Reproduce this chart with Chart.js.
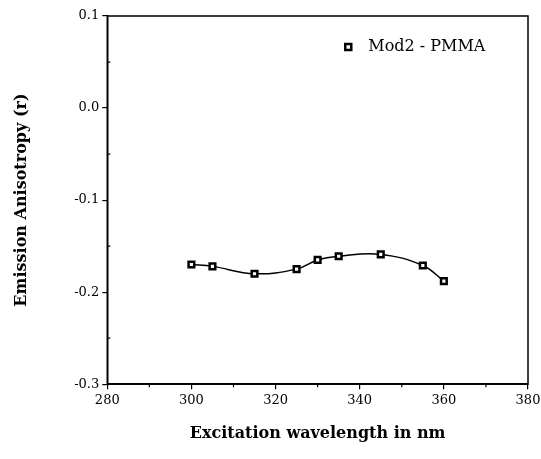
<!DOCTYPE html>
<html>
<head>
<meta charset="utf-8">
<script src="https://cdn.jsdelivr.net/npm/chart.js@4"></script>
<style>
  html, body { margin: 0; padding: 0; background: #fff; }
  #wrap { width: 541px; height: 459px; }
</style>
</head>
<body>
<div id="wrap"><canvas id="chart"></canvas></div>
<script>
// values
const wavelengths = [300, 305, 315, 325, 330, 335, 345, 355, 360];
const anisotropy = [-0.170, -0.172, -0.180, -0.175, -0.165, -0.161, -0.159, -0.171, -0.188];
const seriesLabel = 'Mod2 - PMMA';
const xTitle = 'Excitation wavelength in nm';
const yTitle = 'Emission Anisotropy (r)';

const tickFont = { family: 'DejaVu Serif', size: 13 };
const titleFont = { family: 'DejaVu Serif', size: 16, weight: 'bold' };

// box around the plot + short minor ticks between the labelled ones
const frame = {
  id: 'frame',
  afterDraw(c) {
    const ctx = c.ctx, a = c.chartArea;
    const xs = c.scales.x, ys = c.scales.y;
    ctx.save();
    ctx.strokeStyle = '#000';
    ctx.lineWidth = 1.5;
    ctx.strokeRect(a.left, a.top, a.right - a.left, a.bottom - a.top);
    ctx.lineWidth = 1.2;
    ctx.beginPath();
    for (let v = 290; v < 380; v += 20) {
      const px = xs.getPixelForValue(v);
      ctx.moveTo(px, a.bottom);
      ctx.lineTo(px, a.bottom + 3);
    }
    for (let v = -0.25; v < 0.1; v += 0.1) {
      const py = ys.getPixelForValue(v);
      ctx.moveTo(a.left, py);
      ctx.lineTo(a.left + 3, py);
    }
    ctx.stroke();

    // legend inside the plot
    const lx = a.left + 241, ly = a.top + 31;
    ctx.lineWidth = 2.5;
    ctx.fillStyle = '#fff';
    ctx.fillRect(lx - 3, ly - 3, 6, 6);
    ctx.strokeRect(lx - 3, ly - 3, 6, 6);
    ctx.fillStyle = '#000';
    ctx.font = '16px "DejaVu Serif"';
    ctx.textBaseline = 'middle';
    ctx.fillText(c.data.datasets[0].label, lx + 20, ly);
    ctx.restore();
  }
};

new Chart(document.getElementById('chart'), {
  type: 'scatter',
  data: {
    datasets: [{
      label: seriesLabel,
      data: wavelengths.map((w, i) => ({ x: w, y: anisotropy[i] })),
      showLine: true,
      tension: 0.4,
      borderColor: '#000',
      borderWidth: 1.5,
      pointStyle: 'rect',
      pointRadius: 4,
      pointBorderWidth: 2.5,
      pointBackgroundColor: '#fff',
      pointBorderColor: '#000'
    }]
  },
  options: {
    responsive: true,
    maintainAspectRatio: false,
    animation: false,
    layout: { padding: { top: 16, right: 13, left: 12 } },
    plugins: { legend: { display: false }, tooltip: { enabled: false } },
    scales: {
      x: {
        min: 280, max: 380,
        afterFit: s => { s.paddingRight = 0; },
        ticks: { stepSize: 20, color: '#000', font: tickFont, maxRotation: 0, padding: 4 },
        grid: { drawOnChartArea: false, color: '#000', tickLength: 5, lineWidth: 1.2 },
        border: { color: '#000', width: 1.5 },
        title: { display: true, text: xTitle, color: '#000', font: titleFont, padding: { top: 11, bottom: 16 } }
      },
      y: {
        min: -0.3, max: 0.1,
        ticks: { stepSize: 0.1, color: '#000', font: tickFont, padding: 3,
          callback: v => v.toFixed(1) },
        grid: { drawOnChartArea: false, color: '#000', tickLength: 5, lineWidth: 1.2 },
        border: { color: '#000', width: 1.5 },
        title: { display: true, text: yTitle, color: '#000', font: titleFont, padding: { top: 0, bottom: 40 } }
      }
    }
  },
  plugins: [frame]
});
</script>
</body>
</html>
